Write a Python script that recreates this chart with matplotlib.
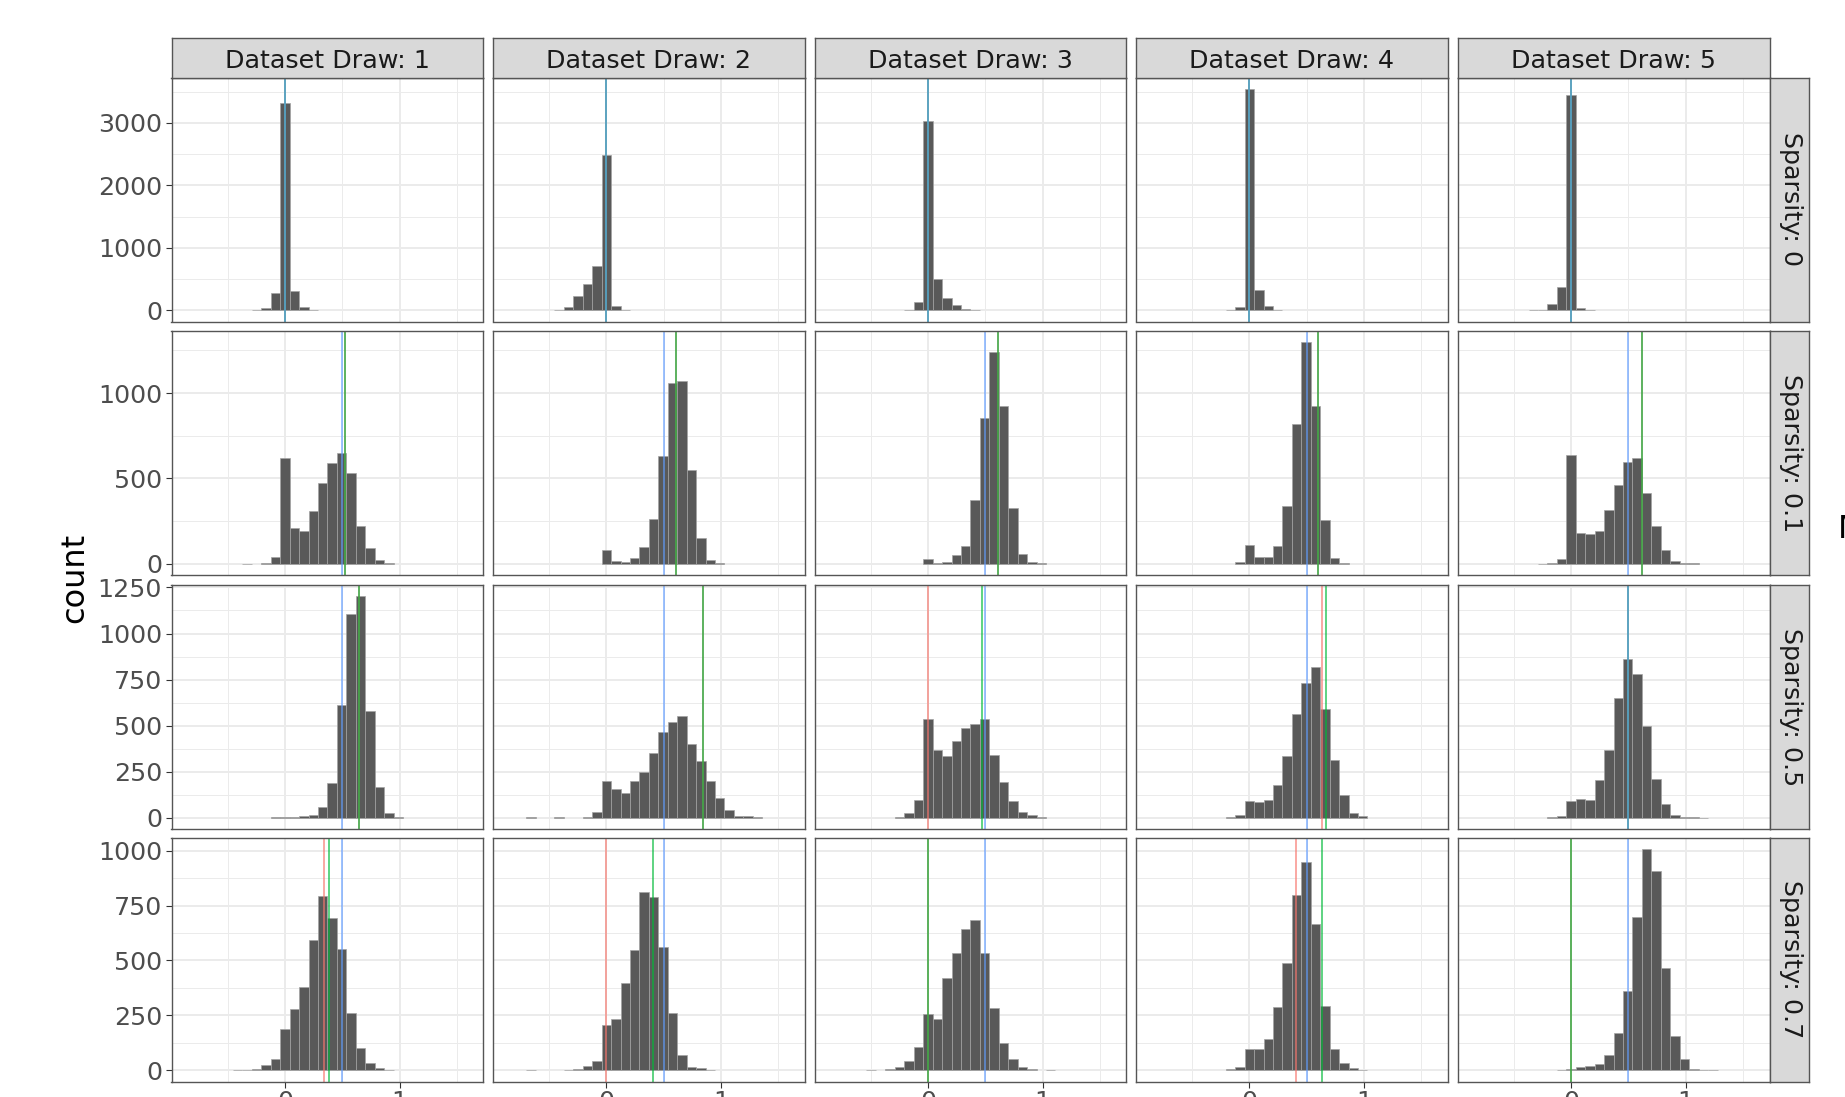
import numpy as np
import matplotlib
matplotlib.use("Agg")
import matplotlib.pyplot as plt

# histogram bins shared by every facet: centres at k * width
bin_width = 0.0824
bin_k = np.arange(-10, 20)
bin_centers = bin_k * bin_width

draw_labels = ["Dataset Draw: 1", "Dataset Draw: 2", "Dataset Draw: 3", "Dataset Draw: 4", "Dataset Draw: 5"]
sparsity_labels = ["Sparsity: 0", "Sparsity: 0.1", "Sparsity: 0.5", "Sparsity: 0.7"]


def counts(d):
    # bin index k -> count
    out = np.zeros(len(bin_k))
    for k, v in d.items():
        out[k + 10] = v
    return out


# sparsity 0
s0_counts = [
    counts({-3: 5, -2: 37, -1: 283, 0: 3310, 1: 304, 2: 48, 3: 5}),
    counts({-5: 5, -4: 48, -3: 224, -2: 421, -1: 714, 0: 2490, 1: 75, 2: 3}),
    counts({-2: 5, -1: 128, 0: 3037, 1: 495, 2: 202, 3: 90, 4: 15, 5: 3}),
    counts({-2: 3, -1: 48, 0: 3548, 1: 330, 2: 69, 3: 5}),
    counts({-4: 3, -3: 10, -2: 101, -1: 378, 0: 3447, 1: 43, 2: 3}),
]
# sparsity 0.1
s1_counts = [
    counts({-4: 2, -2: 5, -1: 41, 0: 620, 1: 209, 2: 195, 3: 308, 4: 476, 5: 593, 6: 651,
            7: 534, 8: 222, 9: 94, 10: 21, 11: 3}),
    counts({0: 82, 1: 19, 2: 14, 3: 33, 4: 99, 5: 265, 6: 632, 7: 1060, 8: 1070, 9: 548,
            10: 150, 11: 23, 12: 3}),
    counts({0: 31, 1: 8, 2: 14, 3: 53, 4: 103, 5: 376, 6: 852, 7: 1240, 8: 924, 9: 326,
            10: 60, 11: 12, 12: 3}),
    counts({-1: 10, 0: 111, 1: 41, 2: 41, 3: 107, 4: 337, 5: 817, 6: 1298, 7: 922, 8: 259,
            9: 33, 10: 5}),
    counts({-3: 2, -2: 5, -1: 31, 0: 638, 1: 181, 2: 175, 3: 190, 4: 315, 5: 461, 6: 595,
            7: 622, 8: 414, 9: 224, 10: 83, 11: 18, 12: 8, 13: 3}),
]
# sparsity 0.5
s5_counts = [
    counts({-1: 4, 0: 7, 1: 5, 2: 9, 3: 16, 4: 58, 5: 190, 6: 615, 7: 1107, 8: 1203, 9: 580,
            10: 165, 11: 24, 12: 4}),
    counts({-8: 3, -5: 3, -2: 7, -1: 34, 0: 201, 1: 159, 2: 134, 3: 201, 4: 251, 5: 351,
            6: 468, 7: 519, 8: 555, 9: 401, 10: 307, 11: 199, 12: 107, 13: 45, 14: 13,
            15: 13, 16: 3}),
    counts({-3: 4, -2: 27, -1: 98, 0: 537, 1: 371, 2: 336, 3: 418, 4: 485, 5: 512, 6: 537,
            7: 342, 8: 193, 9: 89, 10: 34, 11: 16, 12: 4}),
    counts({-2: 7, -1: 14, 0: 92, 1: 87, 2: 96, 3: 177, 4: 335, 5: 561, 6: 732, 7: 819,
            8: 593, 9: 316, 10: 123, 11: 29, 12: 13}),
    counts({-2: 5, -1: 11, 0: 94, 1: 105, 2: 96, 3: 204, 4: 369, 5: 649, 6: 864, 7: 779,
            8: 497, 9: 210, 10: 78, 11: 18, 12: 3, 13: 3, 14: 2}),
]
# sparsity 0.7
s7_counts = [
    counts({-5: 2, -4: 3, -3: 6, -2: 26, -1: 53, 0: 190, 1: 278, 2: 381, 3: 593, 4: 794,
            5: 694, 6: 552, 7: 259, 8: 103, 9: 32, 10: 11, 11: 2}),
    counts({-8: 2, -4: 3, -3: 5, -2: 21, -1: 44, 0: 205, 1: 234, 2: 396, 3: 548, 4: 812,
            5: 788, 6: 560, 7: 262, 8: 68, 9: 14, 10: 9, 11: 3}),
    counts({-6: 2, -4: 5, -3: 17, -2: 44, -1: 105, 0: 255, 1: 232, 2: 422, 3: 533, 4: 643,
            5: 684, 6: 536, 7: 285, 8: 126, 9: 50, 10: 17, 11: 5, 13: 2}),
    counts({-2: 5, -1: 17, 0: 99, 1: 99, 2: 144, 3: 288, 4: 487, 5: 797, 6: 950, 7: 666,
            8: 293, 9: 99, 10: 35, 11: 12, 12: 3}),
    counts({-1: 3, 0: 5, 1: 17, 2: 20, 3: 29, 4: 70, 5: 168, 6: 363, 7: 700, 8: 1009,
            9: 907, 10: 466, 11: 158, 12: 52, 13: 8, 14: 3, 15: 2}),
]
all_counts = [s0_counts, s1_counts, s5_counts, s7_counts]

# reference lines per facet (rows = sparsity, cols = dataset draw)
red_x = [
    [0, 0, 0, 0, 0],
    [0.526, 0.608, 0.608, 0.597, 0.62],
    [0.643, 0.844, 0.0, 0.629, 0.5],
    [0.339, 0.0, 0.0, 0.41, 0.0],
]
green_x = [
    [0, 0, 0, 0, 0],
    [0.526, 0.608, 0.608, 0.597, 0.62],
    [0.643, 0.844, 0.473, 0.672, 0.5],
    [0.385, 0.406, 0.0, 0.63, 0.0],
]
blue_x = [
    [0, 0, 0, 0, 0],
    [0.5, 0.5, 0.5, 0.5, 0.5],
    [0.5, 0.5, 0.5, 0.5, 0.5],
    [0.5, 0.5, 0.5, 0.5, 0.5],
]
row_yticks = [
    [0, 1000, 2000, 3000],
    [0, 500, 1000],
    [0, 250, 500, 750, 1000, 1250],
    [0, 250, 500, 750, 1000],
]

W, H = 1845, 1097
fig = plt.figure(figsize=(W / 100, H / 100), dpi=100)
fig.patch.set_facecolor("white")

col_left = [171.5, 493, 814.5, 1136, 1457.7]
row_top = [77.5, 331, 585, 837.5]
pw, ph = 311.8, 244
strip_h = 39.5
border = "#555555"


def px_axes(l, t, w, h):
    return fig.add_axes([l / W, 1 - (t + h) / H, w / W, h / H])


span = (bin_centers[-1] - bin_centers[0]) + bin_width
x_lo = bin_centers[0] - bin_width / 2 - 0.05 * span
x_hi = bin_centers[-1] + bin_width / 2 + 0.05 * span

for r in range(4):
    ymax = max(c.max() for c in all_counts[r])
    yt = row_yticks[r]
    step = yt[1] - yt[0]
    for c in range(5):
        ax = px_axes(col_left[c], row_top[r], pw, ph)
        cnt = all_counts[r][c]
        keep = cnt > 0
        ax.bar(bin_centers[keep], cnt[keep], width=bin_width, color="#595959",
               edgecolor="#a3a3a3", linewidth=0.5, zorder=2)
        ax.axvline(red_x[r][c], color="#F8766D", lw=1.1, alpha=0.8, zorder=3)
        ax.axvline(green_x[r][c], color="#00BA38", lw=1.1, alpha=0.8, zorder=3)
        ax.axvline(blue_x[r][c], color="#619CFF", lw=1.1, alpha=0.8, zorder=3)

        ax.set_xlim(x_lo, x_hi)
        ax.set_ylim(-0.05 * ymax, 1.05 * ymax)
        ax.set_xticks([0, 1])
        ax.set_xticks([-0.5, 0.5, 1.5], minor=True)
        ax.set_yticks(yt)
        ax.set_yticks(np.arange(step / 2, 1.05 * ymax, step), minor=True)
        ax.grid(which="major", color="#EBEBEB", lw=1.4, zorder=0)
        ax.grid(which="minor", color="#EBEBEB", lw=0.7, zorder=0)
        ax.set_axisbelow(True)
        for s in ax.spines.values():
            s.set_color(border)
            s.set_linewidth(1.0)
            s.set_zorder(4)
        ax.tick_params(which="minor", length=0)
        ax.tick_params(which="major", length=4.3, width=0.8, color="#333333",
                       labelsize=18.3, labelcolor="#4D4D4D", pad=2.5)
        ax.tick_params(axis="x", pad=1.8)
        if c == 0:
            ax.set_yticklabels([str(v) for v in yt])
        else:
            ax.tick_params(axis="y", left=False, labelleft=False)
        if r < 3:
            ax.tick_params(axis="x", bottom=False, labelbottom=False)
        else:
            ax.set_xticklabels(["0", "1"])

        # column strips on top
        if r == 0:
            sa = px_axes(col_left[c], row_top[0] - strip_h, pw, strip_h)
            sa.set_facecolor("#D9D9D9")
            sa.set_xticks([])
            sa.set_yticks([])
            for s in sa.spines.values():
                s.set_color(border)
                s.set_linewidth(1.0)
            sa.text(0.5, 0.42, draw_labels[c], ha="center", va="center",
                    fontsize=18.3, color="#1A1A1A", transform=sa.transAxes)

    # row strip on the right
    sa = px_axes(col_left[4] + pw, row_top[r], 39.4, ph)
    sa.set_facecolor("#D9D9D9")
    sa.set_xticks([])
    sa.set_yticks([])
    for s in sa.spines.values():
        s.set_color(border)
        s.set_linewidth(1.0)
    sa.text(0.55, 0.5, sparsity_labels[r], ha="center", va="center", rotation=270,
            fontsize=18.3, color="#1A1A1A", transform=sa.transAxes)

fig.text(75 / W, 1 - 578 / H, "count", rotation=90, ha="center", va="center",
         fontsize=23, color="black")
fig.text(1838 / W, 1 - 529 / H, "Method", ha="left", va="center",
         fontsize=23, color="black")

fig.savefig("out.png", dpi=100, facecolor="white")
